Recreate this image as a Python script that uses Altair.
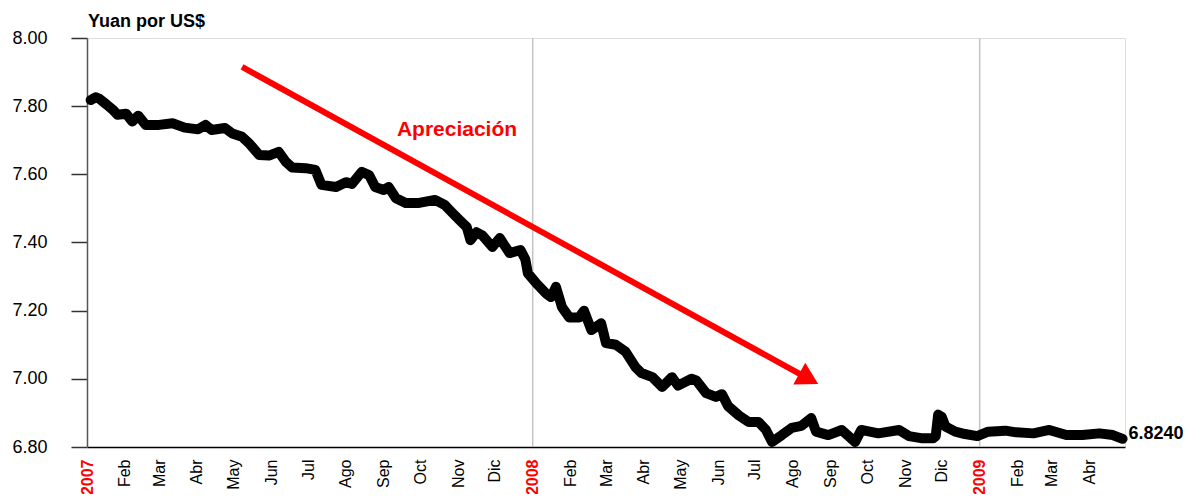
import altair as alt
import pandas as pd

# ---- data ----
dates = [
    "2007-01-04", "2007-01-08", "2007-01-11", "2007-01-17", "2007-01-22", "2007-01-26",
    "2007-02-02", "2007-02-07", "2007-02-12", "2007-02-18", "2007-03-01", "2007-03-12",
    "2007-03-22", "2007-04-02", "2007-04-08", "2007-04-13", "2007-04-24", "2007-04-30",
    "2007-05-08", "2007-05-14", "2007-05-22", "2007-05-30", "2007-06-07", "2007-06-13",
    "2007-06-18", "2007-06-29", "2007-07-07", "2007-07-12", "2007-07-24", "2007-08-01",
    "2007-08-06", "2007-08-14", "2007-08-20", "2007-08-25", "2007-09-01", "2007-09-05",
    "2007-09-11", "2007-09-19", "2007-09-30", "2007-10-13", "2007-10-21", "2007-10-25",
    "2007-11-02", "2007-11-08", "2007-11-11", "2007-11-16", "2007-11-21", "2007-11-29",
    "2007-12-05", "2007-12-13", "2007-12-22", "2007-12-26", "2007-12-28",
    "2008-01-04", "2008-01-12", "2008-01-16", "2008-01-20", "2008-01-25", "2008-01-31",
    "2008-02-08", "2008-02-12", "2008-02-18", "2008-02-26", "2008-03-01", "2008-03-09",
    "2008-03-17", "2008-03-25", "2008-03-30", "2008-04-08", "2008-04-16", "2008-04-24",
    "2008-04-29", "2008-05-10", "2008-05-14", "2008-05-22", "2008-05-30", "2008-06-04",
    "2008-06-09", "2008-06-18", "2008-06-26", "2008-07-04", "2008-07-10", "2008-07-15",
    "2008-07-23", "2008-07-31", "2008-08-08", "2008-08-16", "2008-08-20", "2008-08-30",
    "2008-09-10", "2008-09-21", "2008-09-26", "2008-10-10", "2008-10-27", "2008-11-04",
    "2008-11-14", "2008-11-24", "2008-11-26", "2008-11-28", "2008-12-01", "2008-12-04",
    "2008-12-12", "2008-12-20", "2008-12-30",
    "2009-01-08", "2009-01-22", "2009-01-31", "2009-02-14", "2009-02-27", "2009-03-13",
    "2009-03-26", "2009-04-09", "2009-04-20", "2009-04-28",
]
values = [
    7.818, 7.826, 7.822, 7.805, 7.790, 7.775,
    7.778, 7.755, 7.772, 7.745, 7.745, 7.750,
    7.737, 7.732, 7.745, 7.730, 7.736, 7.720,
    7.710, 7.690, 7.657, 7.655, 7.666, 7.636,
    7.620, 7.618, 7.613, 7.569, 7.563, 7.577,
    7.572, 7.607, 7.598, 7.563, 7.554, 7.563,
    7.530, 7.516, 7.516, 7.525, 7.510, 7.495,
    7.466, 7.445, 7.407, 7.430, 7.420, 7.387,
    7.413, 7.369, 7.378, 7.350, 7.310,
    7.280, 7.250, 7.240, 7.270, 7.210, 7.180,
    7.180, 7.200, 7.143, 7.163, 7.105, 7.100,
    7.080, 7.035, 7.017, 7.005, 6.976, 7.005,
    6.980, 7.000, 6.995, 6.958, 6.947, 6.955,
    6.920, 6.892, 6.873, 6.873, 6.850, 6.815,
    6.835, 6.856, 6.862, 6.885, 6.845, 6.835,
    6.850, 6.815, 6.850, 6.840, 6.850, 6.832,
    6.826, 6.826, 6.832, 6.895, 6.888, 6.860,
    6.845, 6.838, 6.832,
    6.845, 6.848, 6.843, 6.840, 6.850, 6.835,
    6.835, 6.840, 6.835, 6.824,
]

month_labels = ["Ene", "Feb", "Mar", "Abr", "May", "Jun",
                "Jul", "Ago", "Sep", "Oct", "Nov", "Dic"]
tick_months = (
    [(2007, m) for m in range(1, 13)]
    + [(2008, m) for m in range(1, 13)]
    + [(2009, m) for m in range(1, 5)]
)
y_ticks = [6.8, 7.0, 7.2, 7.4, 7.6, 7.8, 8.0]
year_lines = ["2008-01-01", "2009-01-01"]
last_label = "6.8240"
title_text = "Yuan por US$"
arrow_dates = ["2007-05-08", "2008-08-14"]
arrow_values = [7.915, 7.0]
annot_text = "Apreciación"
annot_date = "2007-10-31"
annot_value = 7.7125

FONT = "Liberation Sans"

# ---- tables ----
df = pd.DataFrame({"date": pd.to_datetime(dates), "value": values})
df_last = df.tail(1).assign(label=last_label)
df_years = pd.DataFrame({"date": pd.to_datetime(year_lines)})
df_arrow = pd.DataFrame({"date": pd.to_datetime(arrow_dates), "value": arrow_values})
df_head = df_arrow.tail(1)
df_annot = pd.DataFrame({"date": pd.to_datetime([annot_date]), "value": [annot_value],
                         "label": [annot_text]})
df_title = pd.DataFrame({"label": [title_text]})

tick_vals = [alt.DateTime(year=y, month=m, date=1) for y, m in tick_months]
month_js = "[" + ",".join("'%s'" % s for s in month_labels) + "]"
label_expr = ("month(datum.value) == 0 ? timeFormat(datum.value, '%Y') : "
              + month_js + "[month(datum.value)]")

x_scale = alt.Scale(domain=[alt.DateTime(year=2007, month=1, date=1),
                            alt.DateTime(year=2009, month=4, date=30)])
y_scale = alt.Scale(domain=[6.8, 8.0], nice=False, zero=False)

x_enc = alt.X(
    "date:T",
    scale=x_scale,
    title=None,
    axis=alt.Axis(
        values=tick_vals,
        labelExpr=label_expr,
        labelAngle=-90,
        labelFontSize=16,
        labelFont=FONT,
        labelPadding=12,
        labelOverlap=False,
        labelFlush=False,
        labelBound=False,
        labelColor=alt.condition("month(datum.value) == 0", alt.value("#ff0000"), alt.value("#000000")),
        labelFontWeight=alt.condition("month(datum.value) == 0", alt.value("bold"), alt.value("normal")),
        ticks=False,
        grid=False,
        domainColor="#000000",
        domainWidth=1.5,
    ),
)
y_enc = alt.Y(
    "value:Q",
    scale=y_scale,
    title=None,
    axis=alt.Axis(
        values=y_ticks,
        format=".2f",
        labelFontSize=18,
        labelFont=FONT,
        labelColor="#000000",
        labelPadding=24,
        tickSize=16,
        tickColor="#333333",
        tickWidth=1.5,
        domainColor="#555555",
        domainWidth=1.5,
        grid=False,
    ),
)

years = alt.Chart(df_years).mark_rule(color="#c4c4c4", strokeWidth=1.5).encode(
    y=alt.value(0), y2=alt.value(409)
)

line = alt.Chart(df).mark_line(
    color="#000000", strokeWidth=10, strokeCap="round", strokeJoin="round"
)

last_txt = alt.Chart(df_last).mark_text(
    align="left", baseline="middle", dx=6, dy=-5, fontSize=18, fontWeight="bold",
    font=FONT, color="#000000"
).encode(text="label:N")

arrow_line = alt.Chart(df_arrow).mark_line(color="#ff0000", strokeWidth=6)
arrow_head = alt.Chart(df_head).mark_point(
    shape="triangle-right", filled=True, size=620, angle=28.7, color="#ff0000", opacity=1
)

annot = alt.Chart(df_annot).mark_text(
    align="center", baseline="alphabetic", fontSize=21, fontWeight="bold",
    font=FONT, color="#ff0000"
).encode(text="label:N")

title = alt.Chart(df_title).mark_text(
    align="left", baseline="alphabetic", fontSize=18, fontWeight="bold",
    font=FONT, color="#000000"
).encode(x=alt.value(1), y=alt.value(-11), text="label:N")

chart = alt.layer(
    years, line, arrow_line, arrow_head, annot, last_txt, title
).encode(
    x=x_enc, y=y_enc
).properties(
    width=1038,
    height=409,
    autosize=alt.AutoSizeParams(type="none"),
    padding={"left": 79, "top": 30, "right": 61, "bottom": 47},
).configure_view(
    stroke="#222222", strokeWidth=1.5
).configure(background="#ffffff")

chart.save("out.html", embed_options={"renderer": "svg", "actions": False})
